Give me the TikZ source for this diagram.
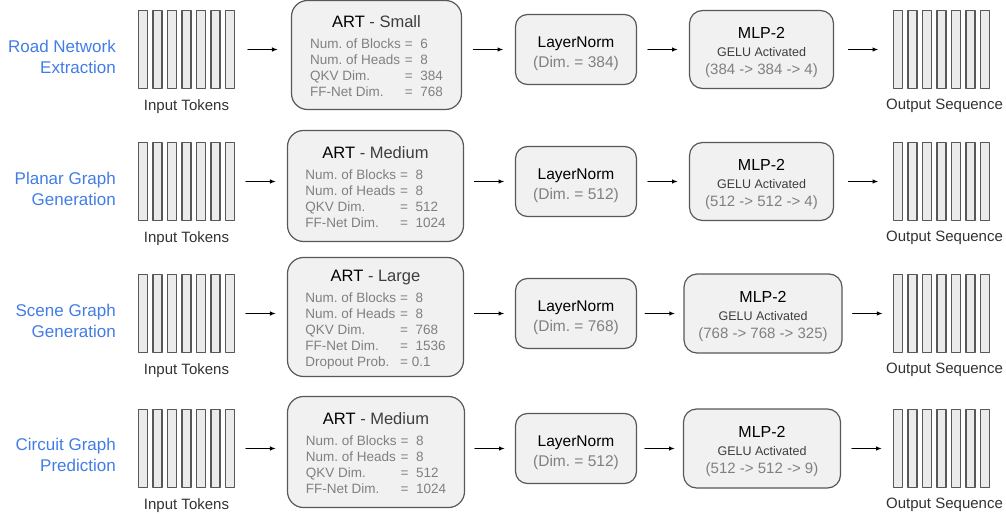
\documentclass[tikz,border=0pt]{standalone}
\usepackage{fontspec}
\setmainfont{Liberation Sans}
\usetikzlibrary{arrows.meta,positioning,calc}

\definecolor{boxline}{RGB}{88,88,88}
\definecolor{boxfill}{RGB}{241,241,241}
\definecolor{tokfill}{RGB}{235,235,235}
\definecolor{taskblue}{RGB}{66,125,230}
\definecolor{paramgray}{RGB}{128,128,128}
\definecolor{subgray}{RGB}{62,62,62}
\definecolor{capgray}{RGB}{50,50,50}

\newcommand\arttitle[1]{{\fontsize{16.5}{20}\selectfont\rule{0pt}{19pt}ART \textcolor{subgray}{- #1}}}
\newcommand\artparams[1]{{\fontsize{13.5}{16}\selectfont\color{paramgray}%
  \begin{tabular}[t]{@{}l@{\hspace{4pt}}l@{}}#1\end{tabular}}}
\newcommand\mlptext[1]{{\fontsize{16}{18}\selectfont\rule{0pt}{17pt}MLP-2}\\%
  {\fontsize{12.5}{14}\selectfont\color{subgray}GELU Activated}\\{\color{paramgray}#1}}
\newcommand\flowarrow[3]{%
  \draw[flow] let \p1=(#1.east), \p2=(#2.west), \p3=(#3) in
    ({(\x1+\x2)/2-15pt},\y3) -- ({(\x1+\x2)/2+15pt},\y3);}

\begin{document}
\frenchspacing
\begin{tikzpicture}[
  x=1pt, y=-1pt,
  line cap=round, line join=round,
  font=\fontsize{15}{18}\selectfont,
  box/.style={draw=boxline, fill=boxfill, line width=1.2pt, align=center, inner sep=0pt},
  artbox/.style={box, rounded corners=16pt, font=\fontsize{16.5}{21.5}\selectfont},
  lnbox/.style={box, rounded corners=12pt, minimum width=121pt, minimum height=70pt,
    font=\fontsize{15.5}{20}\selectfont},
  mlpbox/.style={box, rounded corners=13pt, minimum height=78pt},
  tok/.style={draw=boxline, fill=tokfill, line width=1.1pt, minimum width=9pt,
    minimum height=78pt, inner sep=0pt},
  tokcap/.style={text=capgray, inner sep=0pt},
  task/.style={text=taskblue, font=\fontsize{17}{21}\selectfont, align=right,
    anchor=east, inner sep=0pt},
  flow/.style={-{Latex[length=6pt,width=4.5pt]}, line width=1.2pt}
]
  \useasboundingbox (0,0) rectangle (1006,516);

  % token columns, in and out
  \foreach \r/\yc in {1/49.5,2/181.5,3/313.5,4/448.5} {
    \foreach \i in {0,...,6} {
      \node[tok] (in\r-\i) at ({143+14.5*\i},\yc) {};
      \node[tok] (out\r-\i) at ({898+14.5*\i},\yc) {};
    }
    \node[tokcap, below=10pt of in\r-3] (incap\r) {Input Tokens};
    \node[tokcap, below=10pt of out\r-3, xshift=3pt] (outcap\r) {Output Sequence};
  }

  % row 1
  \node[task] (task1) at (116,56.5) {Road Network\\Extraction};
  \node[artbox, minimum width=170pt, minimum height=109pt] (art1) at (376.5,55)
    {\arttitle{Small}\\\artparams{Num. of Blocks & =\ \ 6\\ Num. of Heads & =\ \ 8\\
      QKV Dim. & =\ \ 384\\ FF-Net Dim. & =\ \ 768}};
  \node[lnbox] (ln1) at (576,49.5) {\rule{0pt}{19pt}LayerNorm\\\textcolor{paramgray}{(Dim. = 384)}};
  \node[mlpbox, minimum width=144pt] (mlp1) at (761.5,49.5) {\mlptext{(384 -> 384 -> 4)}};

  % row 2
  \node[task] (task2) at (116,188.5) {Planar Graph\\Generation};
  \node[artbox, minimum width=176pt, minimum height=111pt] (art2) at (375.5,186)
    {\arttitle{Medium}\\\artparams{Num. of Blocks & =\ \ 8\\ Num. of Heads & =\ \ 8\\
      QKV Dim. & =\ \ 512\\ FF-Net Dim. & =\ \ 1024}};
  \node[lnbox] (ln2) at (576,181.5) {\rule{0pt}{19pt}LayerNorm\\\textcolor{paramgray}{(Dim. = 512)}};
  \node[mlpbox, minimum width=144pt] (mlp2) at (761.5,181.5) {\mlptext{(512 -> 512 -> 4)}};

  % row 3
  \node[task] (task3) at (116,320.5) {Scene Graph\\Generation};
  \node[artbox, minimum width=176pt, minimum height=119pt] (art3) at (375.5,317)
    {\arttitle{Large}\\\artparams{Num. of Blocks & =\ \ 8\\ Num. of Heads & =\ \ 8\\
      QKV Dim. & =\ \ 768\\ FF-Net Dim. & =\ \ 1536\\ Dropout Prob. & = 0.1}};
  \node[lnbox] (ln3) at (576,313.5) {\rule{0pt}{19pt}LayerNorm\\\textcolor{paramgray}{(Dim. = 768)}};
  \node[mlpbox, minimum width=158pt, minimum height=79pt] (mlp3) at (763,313.5)
    {\mlptext{(768 -> 768 -> 325)}};

  % row 4
  \node[task] (task4) at (116,455) {Circuit Graph\\Prediction};
  \node[artbox, minimum width=177pt, minimum height=111pt] (art4) at (376,452)
    {\arttitle{Medium}\\\artparams{Num. of Blocks & =\ \ 8\\ Num. of Heads & =\ \ 8\\
      QKV Dim. & =\ \ 512\\ FF-Net Dim. & =\ \ 1024}};
  \node[lnbox] (ln4) at (576,448.5) {\rule{0pt}{19pt}LayerNorm\\\textcolor{paramgray}{(Dim. = 512)}};
  \node[mlpbox, minimum width=157pt, minimum height=79pt] (mlp4) at (762,448.5)
    {\mlptext{(512 -> 512 -> 9)}};

  % arrows
  \foreach \r in {1,...,4} {
    \flowarrow{in\r-6}{art\r}{in\r-3}
    \flowarrow{art\r}{ln\r}{in\r-3}
    \flowarrow{ln\r}{mlp\r}{in\r-3}
    \flowarrow{mlp\r}{out\r-0}{in\r-3}
  }
\end{tikzpicture}
\end{document}
